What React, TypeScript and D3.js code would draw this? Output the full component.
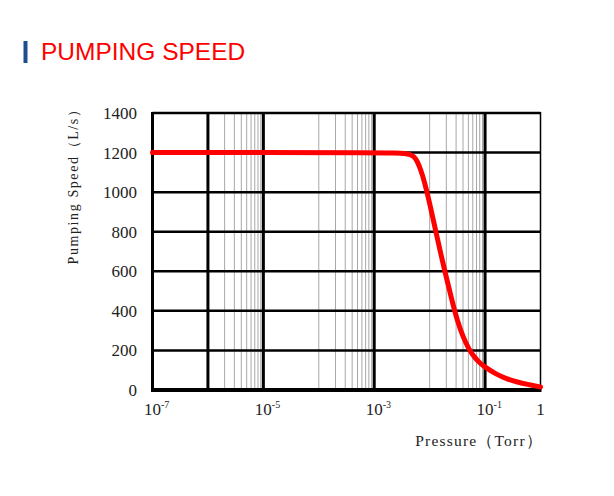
import React from "react";
import * as d3 from "d3";

const pressure = [1e-7, 1e-5, 1e-3, 2.51e-3, 3.55e-3, 4.47e-3, 5.25e-3, 6.03e-3, 6.92e-3, 7.94e-3, 1e-2, 1.26e-2, 1.58e-2, 2.0e-2, 2.51e-2, 3.16e-2, 3.98e-2, 5.01e-2, 6.31e-2, 7.94e-2, 0.1, 0.158, 0.251, 0.398, 0.631, 1];
const speed = [1200, 1200, 1200, 1198, 1196, 1191, 1180, 1155, 1112, 1060, 945, 815, 690, 570, 455, 350, 270, 210, 168, 138, 115, 80, 55, 38, 27, 15];
const yTicks = [0, 200, 400, 600, 800, 1000, 1200, 1400];
const xTickExps = [-7, -5, -3, -1, 0];
const majorDecades = [-6, -5, -3, -1];
const minorDecades = [-6, -4, -2];

export default function App() {
  const W = 614, H = 496;
  const left = 152.5, right = 540.5, top = 113, bottom = 390;
  const x = d3.scaleLog().domain([1e-7, 1]).range([left, right]);
  const y = d3.scaleLinear().domain([0, 1400]).range([bottom, top]);

  const minorLines: number[] = [];
  minorDecades.forEach((e) => {
    for (let k = 1; k <= 9; k++) {
      if (k === 1 && majorDecades.includes(e)) continue;
      minorLines.push(k * Math.pow(10, e));
    }
  });

  const pts: [number, number][] = pressure.map((p, i) => [x(p), y(speed[i])]);
  const line = d3.line().curve(d3.curveBasis)(pts) || "";

  const serif = "'Liberation Serif', 'DejaVu Serif', serif";

  return (
    <svg width={W} height={H} style={{ position: "absolute", left: 0, top: 0, background: "#fff" }}>
      <rect x={0} y={0} width={W} height={H} fill="#fff" />
      <rect x={23.5} y={41} width={4} height={22} fill="#1f4e8c" />
      <text x={41} y={60} fill="#ff0000" fontFamily="'Liberation Sans', Arial, sans-serif" fontSize={24.5}>PUMPING SPEED</text>

      {minorLines.map((v, i) => (
        <line key={"m" + i} x1={x(v)} x2={x(v)} y1={top} y2={bottom} stroke="#a8a8a8" strokeWidth={1} />
      ))}
      {yTicks.filter((t) => t > 0).map((t) => (
        <line key={"h" + t} x1={left} x2={right} y1={y(t)} y2={y(t)} stroke="#000" strokeWidth={2.5} />
      ))}
      {majorDecades.map((e) => (
        <line key={"v" + e} x1={x(Math.pow(10, e))} x2={x(Math.pow(10, e))} y1={top} y2={bottom} stroke="#000" strokeWidth={3} />
      ))}
      <line x1={left} x2={left} y1={top - 1} y2={bottom} stroke="#000" strokeWidth={3} />
      <line x1={right} x2={right} y1={top - 1} y2={bottom} stroke="#000" strokeWidth={1.5} />
      <line x1={left - 1.5} x2={right + 1} y1={bottom} y2={bottom} stroke="#000" strokeWidth={4} />

      <path d={line} fill="none" stroke="#ff0000" strokeWidth={5} strokeLinejoin="round" strokeLinecap="round" />

      {yTicks.map((t) => (
        <text key={"yl" + t} x={137} y={y(t) + 6} textAnchor="end" fontFamily={serif} fontSize={17} fill="#222">{t}</text>
      ))}
      {xTickExps.map((e) => (
        e === 0 ? (
          <text key={"xl" + e} x={x(1)} y={415} textAnchor="middle" fontFamily={serif} fontSize={17} fill="#222">1</text>
        ) : (
          <text key={"xl" + e} x={x(Math.pow(10, e)) - 8.5} y={415} fontFamily={serif} fontSize={17} fill="#222">
            10<tspan dy={-7} fontSize={10}>{String(e)}</tspan>
          </text>
        )
      ))}
      <text x={543} y={446} textAnchor="end" fontFamily={serif} fontSize={15.5} letterSpacing={1.2} fill="#222">Pressure（Torr）</text>
      <text transform={`translate(78,183) rotate(-90)`} textAnchor="middle" fontFamily={serif} fontSize={14} letterSpacing={1.6} fill="#222">Pumping Speed（L/s）</text>
    </svg>
  );
}
